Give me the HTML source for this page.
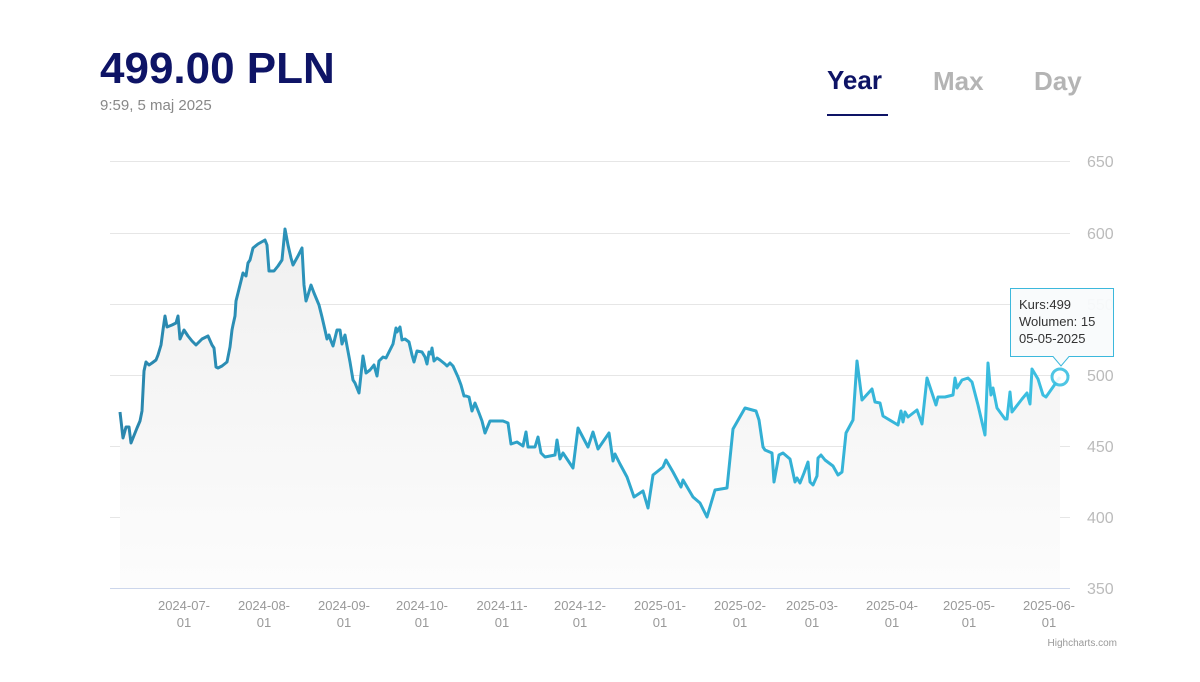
<!DOCTYPE html>
<html><head><meta charset="utf-8"><style>
body{margin:0;background:#fff;width:1200px;height:677px;overflow:hidden;font-family:"Liberation Sans",sans-serif}
</style></head><body>
<svg width="1200" height="677" xmlns="http://www.w3.org/2000/svg" font-family="Liberation Sans, sans-serif">
<defs>
<linearGradient id="lg" x1="118" x2="1068" y1="0" y2="0" gradientUnits="userSpaceOnUse">
<stop offset="0" stop-color="#2a86ad"/><stop offset="0.5" stop-color="#2ea6cc"/><stop offset="1" stop-color="#3cc0e2"/></linearGradient>
<linearGradient id="fg" x1="0" x2="0" y1="230" y2="588" gradientUnits="userSpaceOnUse">
<stop offset="0" stop-color="#f0f0f0"/><stop offset="1" stop-color="#fcfcfc"/></linearGradient>
</defs>
<text x="100" y="83" font-size="44" font-weight="bold" fill="#0e1466">499.00 PLN</text>
<text x="100" y="110" font-size="15" fill="#888">9:59, 5 maj 2025</text>
<text x="827" y="89" font-size="26" font-weight="bold" fill="#0e1466">Year</text>
<rect x="827" y="114" width="61" height="2" fill="#0e1466"/>
<text x="933" y="90" font-size="26" font-weight="bold" fill="#b4b4b4">Max</text>
<text x="1034" y="90" font-size="26" font-weight="bold" fill="#b4b4b4">Day</text>
<g stroke="#e6e6e6" stroke-width="1">
<line x1="110" x2="1070" y1="161.5" y2="161.5"/><line x1="110" x2="1070" y1="233.5" y2="233.5"/>
<line x1="110" x2="1070" y1="304.5" y2="304.5"/><line x1="110" x2="1070" y1="375.5" y2="375.5"/>
<line x1="110" x2="1070" y1="446.5" y2="446.5"/><line x1="110" x2="1070" y1="517.5" y2="517.5"/>
</g>
<line x1="110" x2="1070" y1="588.5" y2="588.5" stroke="#ccd6eb"/>
<g font-size="16" fill="#bbb">
<text x="1087" y="167">650</text><text x="1087" y="239">600</text><text x="1087" y="310">550</text>
<text x="1087" y="381">500</text><text x="1087" y="452">450</text><text x="1087" y="523">400</text><text x="1087" y="594">350</text>
</g>
<g font-size="13" fill="#999" text-anchor="middle">
<text x="184" y="610">2024-07-</text><text x="184" y="627">01</text>
<text x="264" y="610">2024-08-</text><text x="264" y="627">01</text>
<text x="344" y="610">2024-09-</text><text x="344" y="627">01</text>
<text x="422" y="610">2024-10-</text><text x="422" y="627">01</text>
<text x="502" y="610">2024-11-</text><text x="502" y="627">01</text>
<text x="580" y="610">2024-12-</text><text x="580" y="627">01</text>
<text x="660" y="610">2025-01-</text><text x="660" y="627">01</text>
<text x="740" y="610">2025-02-</text><text x="740" y="627">01</text>
<text x="812" y="610">2025-03-</text><text x="812" y="627">01</text>
<text x="892" y="610">2025-04-</text><text x="892" y="627">01</text>
<text x="969" y="610">2025-05-</text><text x="969" y="627">01</text>
<text x="1049" y="610">2025-06-</text><text x="1049" y="627">01</text>
</g>
<text x="1117" y="646" font-size="10" fill="#999" text-anchor="end">Highcharts.com</text>
<path id="p" fill="url(#fg)" stroke="none" d="M120,588 L120,412 123,438 126,427 129,427 131,443 137,428 140,421 142,411 144,371 146,362 149,365 152,363 156,360 158,355 161,345 163,330 165,316 167,327 172,325 176,323 178,316 180,339 184,330 188,336 192,341 196,345 199,342 202,339 208,336 212,345 214,348 216,367 218,368 222,366 227,362 230,347 232,330 233,325 235,316 236,301 238,293 240,285 243,273 246,276 248,263 250,260 253,248 258,244 265,240 267,245 269,271 274,271 278,266 282,260 285,229 288,245 291,258 293,265 298,256 302,248 304,285 306,301 308,295 311,285 314,293 319,305 322,317 325,330 327,339 329,335 331,341 333,346 337,330 340,330 342,344 345,335 347,346 350,362 353,380 355,383 359,393 363,356 366,373 370,370 374,365 377,376 379,361 383,357 386,358 390,350 393,344 396,328 397,332 400,327 402,340 405,339 409,342 412,355 414,362 417,351 422,352 425,357 427,364 429,352 431,354 432,348 434,361 437,358 440,360 445,364 447,366 450,363 453,366 458,377 461,385 464,396 466,396 469,397 472,411 475,403 479,413 482,421 485,433 490,421 503,421 508,423 511,444 517,442 523,446 526,432 528,447 535,447 538,437 541,453 545,457 555,455 557,440 560,459 563,453 573,468 578,428 588,447 593,432 598,449 609,433 613,461 615,454 620,464 627,477 634,497 643,491 648,508 653,475 663,467 666,460 673,472 681,487 683,480 693,497 700,503 707,517 715,490 727,488 733,429 745,408 756,411 759,420 763,447 765,450 772,453 774,482 779,455 783,453 790,459 795,482 797,478 800,483 804,473 808,462 810,482 813,485 817,476 818,458 821,455 825,460 833,466 838,475 842,472 846,433 853,420 857,361 862,400 872,389 875,402 880,403 883,416 898,425 901,411 903,422 905,412 908,417 917,410 922,424 927,378 936,405 938,397 945,397 953,395 955,378 957,388 962,380 968,378 972,382 978,405 985,435 988,363 991,395 993,388 997,408 1005,419 1007,419 1010,392 1012,412 1022,399 1027,393 1030,404 1032,369 1038,379 1043,395 1046,397 1060,377 L1060,588 Z"/>
<polyline fill="none" stroke="url(#lg)" stroke-width="3" stroke-linejoin="round" points="120,412 123,438 126,427 129,427 131,443 137,428 140,421 142,411 144,371 146,362 149,365 152,363 156,360 158,355 161,345 163,330 165,316 167,327 172,325 176,323 178,316 180,339 184,330 188,336 192,341 196,345 199,342 202,339 208,336 212,345 214,348 216,367 218,368 222,366 227,362 230,347 232,330 233,325 235,316 236,301 238,293 240,285 243,273 246,276 248,263 250,260 253,248 258,244 265,240 267,245 269,271 274,271 278,266 282,260 285,229 288,245 291,258 293,265 298,256 302,248 304,285 306,301 308,295 311,285 314,293 319,305 322,317 325,330 327,339 329,335 331,341 333,346 337,330 340,330 342,344 345,335 347,346 350,362 353,380 355,383 359,393 363,356 366,373 370,370 374,365 377,376 379,361 383,357 386,358 390,350 393,344 396,328 397,332 400,327 402,340 405,339 409,342 412,355 414,362 417,351 422,352 425,357 427,364 429,352 431,354 432,348 434,361 437,358 440,360 445,364 447,366 450,363 453,366 458,377 461,385 464,396 466,396 469,397 472,411 475,403 479,413 482,421 485,433 490,421 503,421 508,423 511,444 517,442 523,446 526,432 528,447 535,447 538,437 541,453 545,457 555,455 557,440 560,459 563,453 573,468 578,428 588,447 593,432 598,449 609,433 613,461 615,454 620,464 627,477 634,497 643,491 648,508 653,475 663,467 666,460 673,472 681,487 683,480 693,497 700,503 707,517 715,490 727,488 733,429 745,408 756,411 759,420 763,447 765,450 772,453 774,482 779,455 783,453 790,459 795,482 797,478 800,483 804,473 808,462 810,482 813,485 817,476 818,458 821,455 825,460 833,466 838,475 842,472 846,433 853,420 857,361 862,400 872,389 875,402 880,403 883,416 898,425 901,411 903,422 905,412 908,417 917,410 922,424 927,378 936,405 938,397 945,397 953,395 955,378 957,388 962,380 968,378 972,382 978,405 985,435 988,363 991,395 993,388 997,408 1005,419 1007,419 1010,392 1012,412 1022,399 1027,393 1030,404 1032,369 1038,379 1043,395 1046,397 1060,377"/>
<circle cx="1060" cy="377" r="8" fill="#fff" stroke="#3cc0e2" stroke-width="3" opacity="0.9"/>
<path d="M1010.5,288.5 H1113.5 V356.5 H1069 L1061,366 L1053,356.5 H1010.5 Z" fill="#f9fbfc" fill-opacity="0.95" stroke="#3cb8dc" stroke-width="1"/>
<g font-size="13" fill="#333"><text x="1019" y="309">Kurs:499</text><text x="1019" y="326">Wolumen: 15</text><text x="1019" y="343">05-05-2025</text></g>
</svg>
</body></html>
